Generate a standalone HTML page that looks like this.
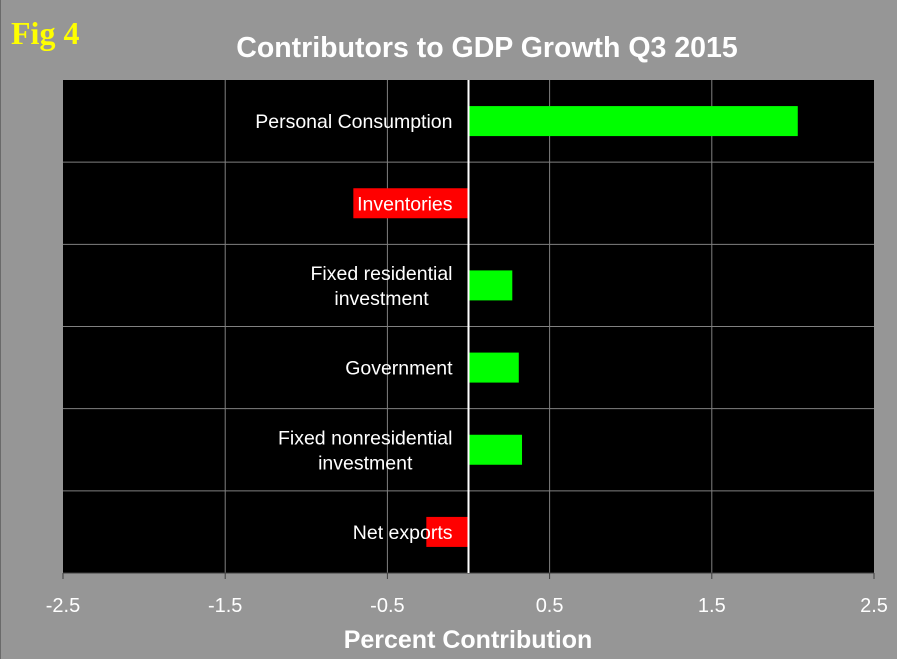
<!DOCTYPE html>
<html><head><meta charset="utf-8"><style>
body{margin:0;background:#969696;}
svg{display:block;font-family:"Liberation Sans",sans-serif;}
</style></head><body>
<svg id="chart" width="897" height="659">
<rect x="0" y="0" width="897" height="659" fill="#969696"/>
<line x1="0.5" y1="0" x2="0.5" y2="659" stroke="#6a6a6a"/>
<text x="11" y="44" fill="#ffff00" font-family="Liberation Serif,serif" font-weight="bold" font-size="32">Fig 4</text>
<text x="487" y="57" fill="#fff" font-weight="bold" font-size="28.5" text-anchor="middle">Contributors to GDP Growth Q3 2015</text>
<rect x="63" y="80" width="811" height="493" fill="#000"/>
<g id="grid"></g><g id="bars"></g><g id="labels"></g><g id="axis"></g>
<text x="468" y="648" fill="#fff" font-weight="bold" font-size="25" text-anchor="middle">Percent Contribution</text>
</svg>
<script>
const categories=["Personal Consumption","Inventories","Fixed residential|investment","Government","Fixed nonresidential|investment","Net exports"];
const values=[2.03,-0.71,0.27,0.31,0.33,-0.26];
const ticks=[-2.5,-1.5,-0.5,0.5,1.5,2.5];
const tickLabels=["-2.5","-1.5","-0.5","0.5","1.5","2.5"];
const L=63,R=874,T=80,B=573,xmin=-2.5,xmax=2.5;
const NS="http://www.w3.org/2000/svg";
const x=v=>L+(v-xmin)/(xmax-xmin)*(R-L);
const band=(B-T)/categories.length;
function mk(tag,attrs,parent,text){const e=document.createElementNS(NS,tag);for(const k in attrs)e.setAttribute(k,attrs[k]);if(text!=null)e.textContent=text;document.getElementById(parent).appendChild(e);return e;}
ticks.forEach((t,i)=>{
  if(i>0&&i<ticks.length-1){const g=mk('line',{x1:x(t),x2:x(t),y1:T,y2:B,stroke:'#808080','stroke-width':1},'grid');
  
  }
  const tk=mk('line',{x1:x(t),x2:x(t),y1:B,y2:B+6,stroke:'#404040'},'axis');
  
  
  const tl=mk('text',{x:x(t),y:B+39,fill:'#fff','font-size':20,'text-anchor':'middle'},'axis',tickLabels[i]);
  
  
});
for(let i=1;i<categories.length;i++){const g=mk('line',{x1:L,x2:R,y1:T+band*i,y2:T+band*i,stroke:'#808080'},'grid');

}
const ax=mk('line',{x1:L,x2:R,y1:B,y2:B,stroke:'#404040'},'axis');


categories.forEach((c,i)=>{
  const v=values[i],cy=T+band*i+band/2,h=30;
  const b=mk('rect',{x:Math.min(x(0),x(v)),y:cy-h/2,width:Math.abs(x(v)-x(0)),height:h,fill:v>=0?'#00ff00':'#ff0000'},'bars');
  
  
  const lines=c.split('|');
  const right=x(0)-16;
  const els=lines.map((ln,j)=>{
    const yy=cy+7+(j-(lines.length-1)/2)*25;
    const t=mk('text',{x:right,y:yy,fill:'#fff','font-size':19.5,'text-anchor':lines.length>1?'middle':'end'},'labels',ln);
    
    
    return t;
  });
  if(lines.length>1){
    const w=Math.max(...els.map(e=>e.getComputedTextLength()));
    els.forEach(e=>e.setAttribute('x',right-w/2));
  }
});
const z=mk('line',{x1:x(0),x2:x(0),y1:T,y2:B,stroke:'#fff','stroke-width':2},'axis');


</script>
</body></html>
